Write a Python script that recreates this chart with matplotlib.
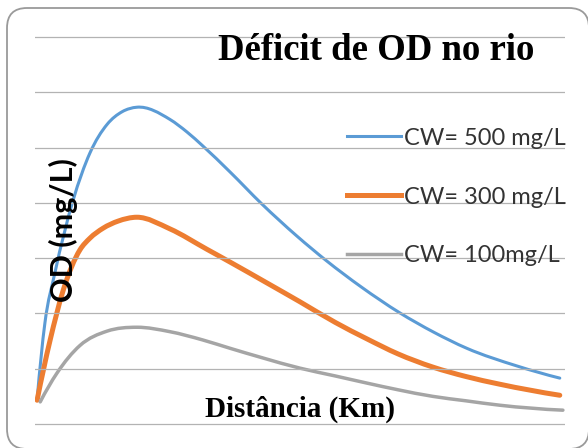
import matplotlib
matplotlib.use("Agg")
import matplotlib.pyplot as plt
from matplotlib.patches import FancyBboxPatch, PathPatch
from matplotlib.path import Path
from matplotlib.lines import Line2D
from matplotlib.transforms import IdentityTransform

# ---------------- data ----------------
title = "Déficit de OD no rio"
xlabel = "Distância (Km)"
ylabel = "OD (mg/L)"
labels = ["CW= 500 mg/L", "CW= 300 mg/L", "CW= 100mg/L"]
colors = ["#5B9BD5", "#ED7D31", "#A5A5A5"]

x_500 = [0.0, 1.5, 3.4, 6.9, 10.1, 13.4, 16.3, 19.1, 25.4, 28.7, 31.7, 36.9, 43.0, 49.7, 55.4, 62.0, 69.4, 75.9, 82.2, 91.8, 100.0]
y_500 = [0.43, 1.83, 2.73, 4.05, 4.90, 5.42, 5.65, 5.73, 5.51, 5.28, 5.03, 4.56, 3.98, 3.40, 2.95, 2.48, 2.01, 1.66, 1.37, 1.05, 0.83]

x_300 = [0.0, 2.5, 5.0, 8.2, 10.1, 12.6, 15.5, 19.1, 25.4, 32.5, 36.9, 44.0, 50.3, 57.0, 63.1, 69.0, 75.7, 82.0, 88.5, 100.0]
y_300 = [0.43, 1.52, 2.42, 3.15, 3.36, 3.54, 3.67, 3.74, 3.53, 3.16, 2.93, 2.55, 2.21, 1.84, 1.54, 1.27, 1.03, 0.86, 0.72, 0.52]

x_100 = [0.6, 3.8, 8.2, 13.4, 19.1, 25.4, 31.7, 36.9, 43.0, 50.3, 57.0, 63.1, 69.0, 75.7, 82.0, 88.5, 100.6]
y_100 = [0.40, 0.92, 1.42, 1.68, 1.75, 1.67, 1.52, 1.37, 1.20, 1.01, 0.87, 0.74, 0.62, 0.50, 0.42, 0.34, 0.25]

series = [(x_500, y_500), (x_300, y_300), (x_100, y_100)]
widths = [2.2, 3.6, 2.5]


def smooth_path(xs, ys):
    """Smoothed line through the points: cubic Hermite (Bezier) segments in x."""
    n = len(xs)
    h = [xs[i + 1] - xs[i] for i in range(n - 1)]
    d = [(ys[i + 1] - ys[i]) / h[i] for i in range(n - 1)]
    m = [0.0] * n
    for i in range(1, n - 1):
        m[i] = (d[i - 1] * h[i] + d[i] * h[i - 1]) / (h[i - 1] + h[i])
    m[0] = d[0] + (d[0] - d[1]) * h[0] / (h[0] + h[1])
    m[-1] = d[-1] + (d[-1] - d[-2]) * h[-1] / (h[-1] + h[-2])
    verts = [(xs[0], ys[0])]
    codes = [Path.MOVETO]
    for i in range(n - 1):
        c1 = (xs[i] + h[i] / 3.0, ys[i] + m[i] * h[i] / 3.0)
        c2 = (xs[i + 1] - h[i] / 3.0, ys[i + 1] - m[i + 1] * h[i] / 3.0)
        verts += [c1, c2, (xs[i + 1], ys[i + 1])]
        codes += [Path.CURVE4] * 3
    return Path(verts, codes)


# ---------------- figure ----------------
W, H = 588, 448
fig = plt.figure(figsize=(W / 100, H / 100), dpi=100)
fig.patch.set_facecolor("white")

# rounded chart border (pixel coordinates, origin bottom-left)
border = FancyBboxPatch((7, H - 449), 589 - 7, 449 - 8,
                        boxstyle="round,pad=0,rounding_size=20",
                        transform=IdentityTransform(), facecolor="none",
                        edgecolor="#9A9A9A", linewidth=1.3)
fig.patches.append(border)

pad = 2 / 55.3
ax = fig.add_axes([35 / W, 22 / H, 530 / W, 391 / H])
ax.set_xlim(-0.4, 101.0)
ax.set_ylim(-pad, 7 + pad)
ax.set_yticks(range(8))
ax.set_xticks([])
ax.yaxis.grid(True, color="#B3B3B3", linewidth=0.9)
ax.tick_params(length=0, labelleft=False, labelbottom=False)
for s in ax.spines.values():
    s.set_visible(False)
ax.set_facecolor("none")

for (xs, ys), c, lw in zip(series, colors, widths):
    ax.add_patch(PathPatch(smooth_path(xs, ys), facecolor="none", edgecolor=c,
                           linewidth=lw, capstyle="round", joinstyle="round"))

# legend
handles = [Line2D([0], [0], color=c, linewidth=lw) for c, lw in zip(colors, widths)]
leg = fig.legend(handles, labels, loc="center left",
                 bbox_to_anchor=(347 / W, 1 - 197 / H), frameon=False,
                 prop={"family": "Lato", "size": 17},
                 handlelength=2.3, handletextpad=0.1, labelspacing=1.6,
                 borderpad=0, borderaxespad=0)
for t in leg.get_texts():
    t.set_color("#333333")

# texts
fig.text(376.5 / W, 1 - 59.5 / H, title, ha="center", va="baseline",
         family="Liberation Serif", weight="bold", size=26.5, color="black")
fig.text(300 / W, 1 - 416.5 / H, xlabel, ha="center", va="baseline",
         family="Liberation Serif", weight="bold", size=21, color="black")
fig.text(63.5 / W, 1 - 230 / H, ylabel, ha="center", va="center", rotation=90,
         family="Lato", weight="bold", size=22, color="black")

fig.savefig("out.png", dpi=100)
